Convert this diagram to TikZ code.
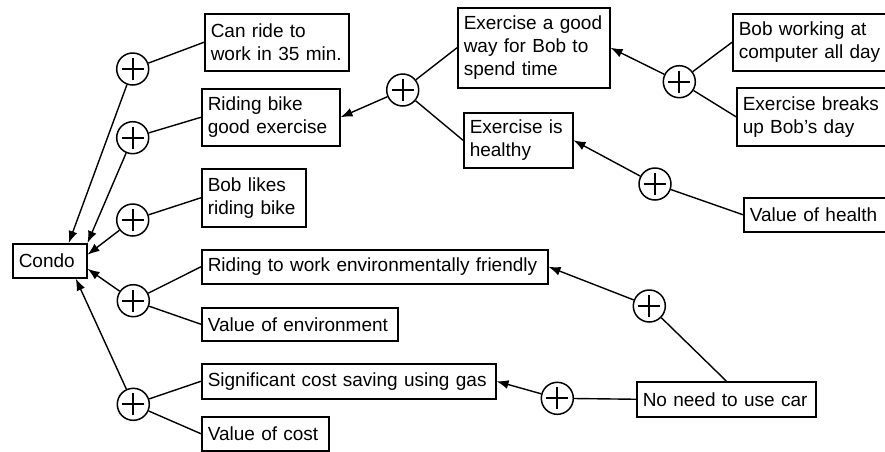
\documentclass[tikz,border=0pt]{standalone}
\usepackage{fontspec}
\setmainfont{Liberation Sans}
\usetikzlibrary{arrows.meta}
\tikzset{
  bx/.style={draw, line width=1.5pt, inner xsep=6pt, inner ysep=0pt, align=left, anchor=north west,
    font=\fontsize{19}{23}\selectfont},
  pl/.style={draw, circle, line width=1.5pt, minimum size=32pt, inner sep=0pt, fill=white,
    path picture={\draw[line width=2pt] (path picture bounding box.center) +(-11pt,0) -- +(11pt,0)
      (path picture bounding box.center) +(0,-11pt) -- +(0,11pt);}},
  ln/.style={line width=1.4pt},
  ar/.style={line width=1.4pt, -{Latex[length=12pt,width=9pt]}}
}
\newcommand{\bxnode}[6]{% name, x1, y1, x2, y2, text
  \node[bx, text width={#4-#2-12}, minimum height={#5-#3}] (#1) at (#2,#3) {#6};}
\begin{document}
\begin{tikzpicture}[x=1pt,y=-1pt]
\clip (0,0) rectangle (885,451);
\fill[white] (0,0) rectangle (885,451);
% boxes
\bxnode{b1}{204}{13}{348}{70}{Can ride to\\work in 35 min.}
\bxnode{b2}{201}{88}{339}{145}{Riding bike\\good exercise}
\bxnode{b3}{201}{168}{305}{226}{Bob likes\\riding bike}
\bxnode{condo}{12}{243}{86}{277}{Condo}
\bxnode{b4}{201}{249}{547}{283}{Riding to work environmentally friendly}
\bxnode{b5}{201}{307}{397}{340}{Value of environment}
\bxnode{b6}{201}{363}{495}{398}{Significant cost saving using gas}
\bxnode{b7}{201}{416}{328}{450}{Value of cost}
\bxnode{b8}{636}{381}{815}{416}{No need to use car}
\bxnode{b9}{457}{7}{609}{87}{Exercise a good\\way for Bob to\\spend time}
\bxnode{b10}{463}{112}{572}{167}{Exercise is\\healthy}
\bxnode{b11}{732}{13}{892}{70}{Bob working at\\computer all day}
\bxnode{b12}{736}{87}{892}{145}{Exercise breaks\\up Bob’s day}
\bxnode{b13}{743}{197}{892}{231}{Value of health}
% circles
\node[pl] (c1) at (132.7,69) {};
\node[pl] (c2) at (132.7,137.7) {};
\node[pl] (c3) at (132.7,220) {};
\node[pl] (c4) at (133.3,300.7) {};
\node[pl] (c5) at (133.3,404.3) {};
\node[pl] (c6) at (649.3,306) {};
\node[pl] (c7) at (557.3,398.3) {};
\node[pl] (c8) at (402.7,90) {};
\node[pl] (c9) at (679.3,81.7) {};
\node[pl] (c10) at (655,184) {};
% connectors to Condo
\draw[ar] (c1) -- ([xshift=19pt]condo.north);
\draw[ar] (c2) -- (condo.north east);
\draw[ar] (c3) -- ([yshift=6pt]condo.east);
\draw[ar] (c4) -- ([yshift=-8pt]condo.east);
\draw[ar] (c5) -- ([xshift=26pt]condo.south);
% lines to boxes
\draw[ln] (c1) -- (b1.west);
\draw[ln] (c2) -- (b2.west);
\draw[ln] (c3) -- (b3.west);
\draw[ln] (c4) -- (b4.west);
\draw[ln] (c4) -- (b5.west);
\draw[ln] (c5) -- (b6.west);
\draw[ln] (c5) -- (b7.west);
\draw[ar] (c8) -- (b2.east);
\draw[ln] (c8) -- (b9.west);
\draw[ln] (c8) -- (b10.west);
\draw[ar] (c9) -- (b9.east);
\draw[ln] (c9) -- (b11.west);
\draw[ln] (c9) -- (b12.west);
\draw[ar] (c10) -- (b10.east);
\draw[ln] (c10) -- (b13.west);
\draw[ar] (c6) -- (b4.east);
\draw[ln] (c6) -- (b8.north);
\draw[ar] (c7) -- (b6.east);
\draw[ln] (c7) -- (b8.west);
\end{tikzpicture}
\end{document}
